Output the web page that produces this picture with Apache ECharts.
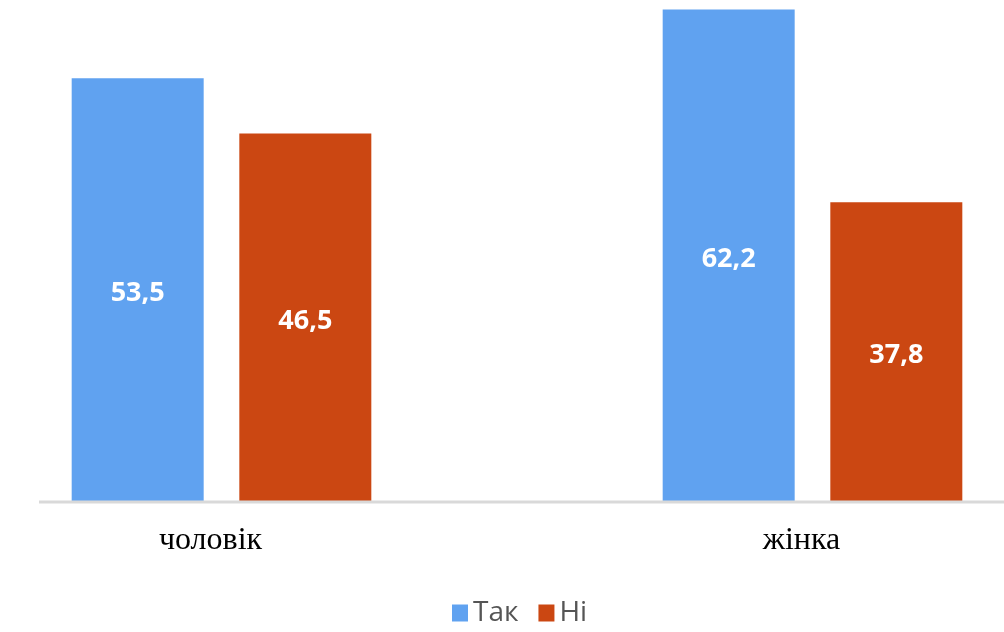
<!DOCTYPE html>
<html><head><meta charset="utf-8">
<script src="https://cdn.jsdelivr.net/npm/echarts@6/dist/echarts.min.js"></script>
<style>html,body{margin:0;padding:0;background:#fff}#c{width:1004px;height:632px}</style>
</head><body><div id="c"></div>
<script>
const categories = ['чоловік', 'жінка'];
const seriesNames = ['Так', 'Ні'];
const yesValues = [53.5, 62.2];
const noValues = [46.5, 37.8];

const chart = echarts.init(document.getElementById('c'), null, {renderer: 'canvas'});
const labelStyle = {
  show: true, position: 'inside', offset: [0, 4], color: '#fff', fontFamily: 'Open Sans',
  fontWeight: 'bold', fontSize: 27,
  formatter: p => String(p.value).replace('.', ',')
};
chart.setOption({
  animation: false,
  grid: {left: -74, right: -104, top: 0, bottom: 131, containLabel: false, outerBoundsMode: 'none'},
  legend: {
    left: 452, top: 599, padding: 0, itemWidth: 16, itemHeight: 17, itemGap: 20,
    icon: 'rect',
    textStyle: {fontFamily: 'Open Sans', fontSize: 28, fontWeight: 'normal', color: '#555555'},
    data: seriesNames
  },
  xAxis: {
    type: 'category', data: categories,
    axisLine: {show: false}, axisTick: {show: false},
    axisLabel: {fontFamily: 'Liberation Serif', fontSize: 32, color: '#000', margin: 24, padding: [0, 22, 0, 0]}
  },
  yAxis: {type: 'value', min: 0, max: 63.4, show: false, splitLine: {show: false}},
  graphic: [{
    type: 'line', shape: {x1: 39, y1: 502, x2: 1004, y2: 502},
    style: {stroke: '#d9d9d9', lineWidth: 3}, z: 10
  }],
  series: [
    {name: seriesNames[0], type: 'bar', data: yesValues, barWidth: 132, barGap: '27%',
     itemStyle: {color: '#60a2f0'}, label: labelStyle},
    {name: seriesNames[1], type: 'bar', data: noValues, barWidth: 132,
     itemStyle: {color: '#cb4712'}, label: labelStyle}
  ]
});
</script></body></html>
